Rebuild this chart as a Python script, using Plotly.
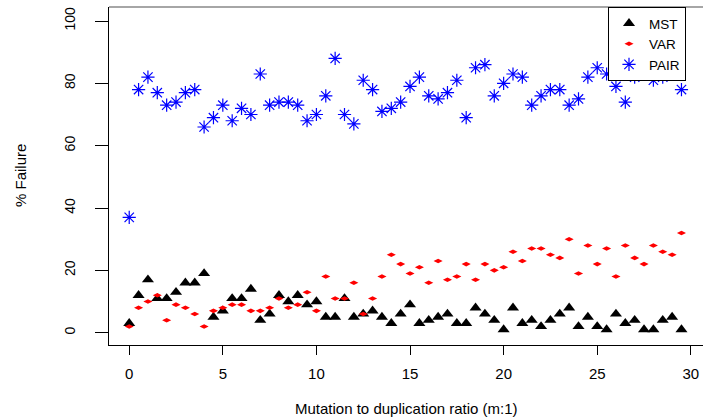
import plotly.graph_objects as go

ratio = [i * 0.5 for i in range(60)]

mst = [3, 12, 17, 11, 11, 13, 16, 16, 19, 5, 7, 11, 11, 14, 4, 6, 12, 10, 12, 9,
       10, 5, 5, 11, 5, 6, 7, 5, 3, 6, 9, 3, 4, 5, 6, 3, 3, 8, 6, 4,
       1, 8, 3, 4, 2, 4, 6, 8, 2, 5, 2, 1, 6, 3, 4, 1, 1, 4, 5, 1]

var = [2, 8, 10, 12, 4, 9, 8, 6, 2, 7, 8, 9, 9, 7, 7, 8, 11, 8, 9, 13,
       7, 18, 11, 11, 16, 6, 11, 18, 25, 22, 19, 21, 16, 23, 17, 18, 22, 17, 22, 20,
       21, 26, 23, 27, 27, 25, 24, 30, 19, 28, 22, 27, 18, 28, 24, 22, 28, 26, 25, 32]

pair = [37, 78, 82, 77, 73, 74, 77, 78, 66, 69, 73, 68, 72, 70, 83, 73, 74, 74, 73, 68,
        70, 76, 88, 70, 67, 81, 78, 71, 72, 74, 79, 82, 76, 75, 77, 81, 69, 85, 86, 76,
        80, 83, 82, 73, 76, 78, 78, 73, 75, 82, 85, 83, 79, 74, 82, 83, 81, 82, 84, 78]

x_ticks = [0, 5, 10, 15, 20, 25, 30]
y_ticks = [0, 20, 40, 60, 80, 100]

FONT = "Liberation Sans, Arial, Helvetica, sans-serif"

fig = go.Figure()
fig.add_trace(go.Scatter(x=ratio, y=mst, mode="markers", name="MST",
                         marker=dict(symbol="triangle-up", size=10.5, color="black",
                                     line=dict(width=0))))
fig.add_trace(go.Scatter(x=ratio, y=var, mode="markers", name="VAR",
                         marker=dict(symbol="diamond-wide", size=6.5, color="#ff0000",
                                     line=dict(width=0))))
fig.add_trace(go.Scatter(x=ratio, y=pair, mode="markers", name="PAIR",
                         marker=dict(symbol="asterisk-open", size=11, color="#0000ff",
                                     line=dict(width=1.2, color="#0000ff"))))

fig.update_layout(
    width=703, height=419,
    margin=dict(l=109, r=0, t=7, b=74, autoexpand=False),
    plot_bgcolor="white", paper_bgcolor="white",
    font=dict(family=FONT, size=15, color="black"),
    showlegend=True,
    legend=dict(x=(608 - 109) / 594, y=1, xanchor="left", yanchor="top",
                bordercolor="black", borderwidth=1, bgcolor="white",
                font=dict(size=13.5), itemsizing="trace", tracegroupgap=0),
    xaxis=dict(range=[-1.08, 30.65], tickvals=x_ticks, ticktext=[str(v) for v in x_ticks],
               showgrid=False, zeroline=False, showline=True, linecolor="black", linewidth=1,
               ticks="outside", ticklen=9, tickcolor="black", tickwidth=1,
               tickfont=dict(size=15), ticklabelstandoff=6),
    yaxis=dict(range=[-3.95, 104.5], tickvals=y_ticks, ticktext=[str(v) for v in y_ticks],
               showgrid=False, zeroline=False, showline=True, linecolor="black", linewidth=1,
               ticks="outside", ticklen=13, tickcolor="black", tickwidth=1,
               tickangle=-90, tickfont=dict(size=14), ticklabelstandoff=14),
    shapes=[dict(type="line", xref="paper", yref="paper", x0=0, x1=1, y0=1, y1=1,
                 line=dict(color="#888888", width=1.5))],
    annotations=[
        dict(text="Mutation to duplication ratio (m:1)", xref="paper", yref="paper",
             x=0.5, y=0, xanchor="center", yanchor="middle", yshift=-63,
             showarrow=False, font=dict(size=15)),
        dict(text="% Failure", xref="paper", yref="paper", x=0, y=0.5,
             xanchor="center", yanchor="middle", xshift=-89, textangle=-90,
             showarrow=False, font=dict(size=15)),
    ],
)

fig.write_html("out.html", config={"displayModeBar": False},
               post_script="document.body.style.margin='0';document.body.style.padding='0';")
